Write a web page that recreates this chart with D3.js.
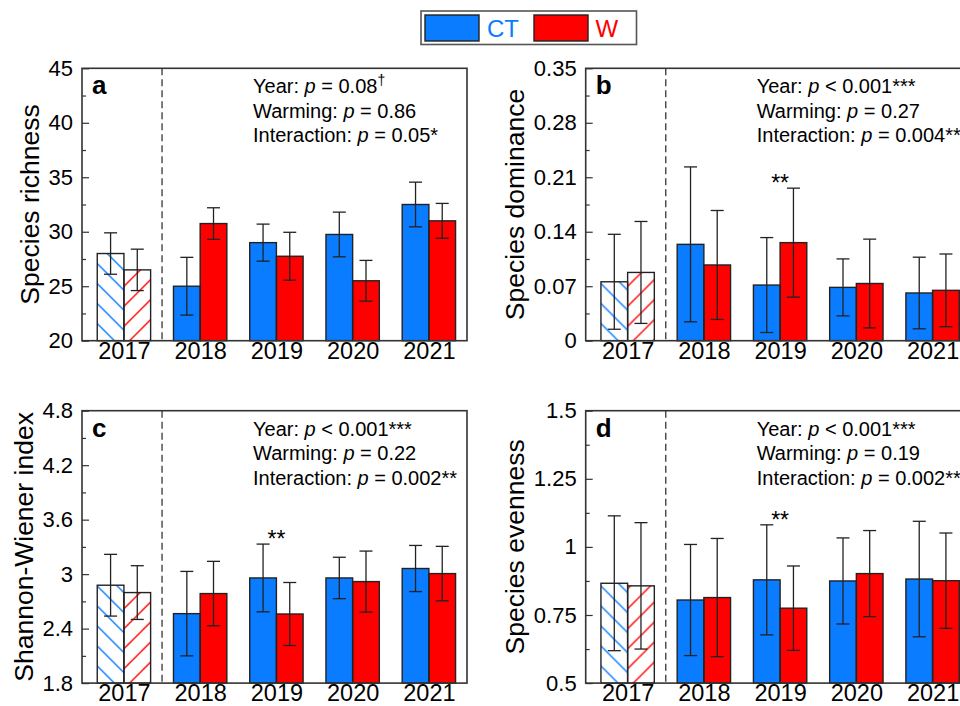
<!DOCTYPE html>
<html>
<head>
<meta charset="utf-8">
<script src="https://cdn.jsdelivr.net/npm/d3@7"></script>
<style>
  body { margin: 0; background: #fff; }
  svg { font-family: Arial, "Liberation Sans", sans-serif; }
</style>
</head>
<body>
<div id="chart"></div>
<script>
const years = ['2017', '2018', '2019', '2020', '2021']

// a - species richness
const richnessCT = [28.0, 25.0, 29.0, 29.75, 32.5]
const richnessCTse = [1.9, 2.65, 1.7, 2.05, 2.05]
const richnessW = [26.5, 30.75, 27.75, 25.5, 31.0]
const richnessWse = [1.9, 1.45, 2.2, 1.87, 1.6]

// b - species dominance
const dominanceCT = [0.0757, 0.1238, 0.0715, 0.0685, 0.0613]
const dominanceCTse = [0.061, 0.0995, 0.061, 0.0366, 0.046]
const dominanceW = [0.0877, 0.0973, 0.126, 0.0735, 0.0647]
const dominanceWse = [0.0655, 0.07, 0.07, 0.057, 0.0467]

// c - Shannon-Wiener index
const shannonCT = [2.878, 2.565, 2.958, 2.958, 3.062]
const shannonCTse = [0.34, 0.465, 0.373, 0.228, 0.254]
const shannonW = [2.797, 2.786, 2.561, 2.918, 3.006]
const shannonWse = [0.296, 0.355, 0.347, 0.336, 0.3]

// d - species evenness
const evennessCT = [0.8665, 0.805, 0.879, 0.875, 0.882]
const evennessCTse = [0.2475, 0.204, 0.202, 0.158, 0.212]
const evennessW = [0.857, 0.814, 0.775, 0.902, 0.876]
const evennessWse = [0.232, 0.217, 0.155, 0.158, 0.175]

const richnessTicks = [20, 25, 30, 35, 40, 45]
const dominanceTicks = [0, 0.07, 0.14, 0.21, 0.28, 0.35]
const shannonTicks = [1.8, 2.4, 3, 3.6, 4.2, 4.8]
const evennessTicks = [0.5, 0.75, 1, 1.25, 1.5]

const BLUE = '#0a7cff'
const RED = '#ff0000'

const W = 960, H = 706
const pw = 385, ph = 272.4

const panels = [
  {
    letter: 'a', title: 'Species richness', left: 82, top: 68.3, titleX: 39,
    ticks: richnessTicks, ct: richnessCT, ctSe: richnessCTse, w: richnessW, wSe: richnessWse,
    stats: [['Year: ', ' = 0.08', '†'], ['Warming: ', ' = 0.86'], ['Interaction: ', ' = 0.05*']],
    sig: null
  },
  {
    letter: 'b', title: 'Species dominance', left: 585.7, top: 68.3, titleX: 524,
    ticks: dominanceTicks, ct: dominanceCT, ctSe: dominanceCTse, w: dominanceW, wSe: dominanceWse,
    stats: [['Year: ', ' < 0.001***'], ['Warming: ', ' = 0.27'], ['Interaction: ', ' = 0.004**']],
    sig: 2
  },
  {
    letter: 'c', title: 'Shannon-Wiener index', left: 82, top: 410.7, titleX: 32.5,
    ticks: shannonTicks, ct: shannonCT, ctSe: shannonCTse, w: shannonW, wSe: shannonWse,
    stats: [['Year: ', ' < 0.001***'], ['Warming: ', ' = 0.22'], ['Interaction: ', ' = 0.002**']],
    sig: 2
  },
  {
    letter: 'd', title: 'Species evenness', left: 585.7, top: 410.7, titleX: 524,
    ticks: evennessTicks, ct: evennessCT, ctSe: evennessCTse, w: evennessW, wSe: evennessWse,
    stats: [['Year: ', ' < 0.001***'], ['Warming: ', ' = 0.19'], ['Interaction: ', ' = 0.002**']],
    sig: 2
  }
]

const svg = d3.select('#chart').append('svg')
  .attr('width', W)
  .attr('height', H)

// hatch patterns for 2017 (pre-treatment) bars
const defs = svg.append('defs')
const hatch = (id, color, d) => {
  defs.append('pattern')
    .attr('id', id)
    .attr('patternUnits', 'userSpaceOnUse')
    .attr('width', 20).attr('height', 20)
    .append('path')
    .attr('d', d)
    .attr('stroke', color)
    .attr('stroke-width', 1.4)
    .attr('fill', 'none')
}
hatch('hatchCT', BLUE, 'M-5,-5L25,25M-5,15L5,25M15,-5L25,5')
hatch('hatchW', RED, 'M-5,25L25,-5M-5,5L5,-5M15,25L25,15')

const xScale = d3.scaleLinear().domain([0.45, 5.5]).range([0, pw])
const bw = 0.35

function drawPanel(p) {
  const g = svg.append('g').attr('transform', `translate(${p.left},${p.top})`)
  const t = p.ticks
  const y = d3.scaleLinear().domain([t[0], t[t.length - 1]]).range([ph, 0])
  const step = t[1] - t[0]
  const minor = d3.range(t.length - 1).map(i => t[0] + step * (i + 0.5))

  // minor ticks
  g.append('g')
    .call(d3.axisLeft(y).tickValues(minor).tickSize(-4).tickFormat(''))
    .call(s => s.select('.domain').remove())
    .selectAll('line').attr('stroke', '#333').attr('stroke-width', 1.2)

  g.append('g')
    .call(d3.axisLeft(y).tickValues(t).tickSize(-7).tickPadding(9).tickFormat(d => d3.format('')(+d.toFixed(2))))
    .call(s => s.select('.domain').remove())
    .call(s => s.selectAll('line').attr('stroke', '#333').attr('stroke-width', 1.2))
    .selectAll('text')
    .attr('font-size', 22)
    .attr('font-family', 'Arial, "Liberation Sans", sans-serif')
    .attr('fill', '#000')

  g.append('g')
    .attr('transform', `translate(0,${ph})`)
    .call(d3.axisBottom(xScale).tickValues([1, 2, 3, 4, 5]).tickSize(0).tickPadding(1.5).tickFormat(d => years[d - 1]))
    .call(s => s.select('.domain').remove())
    .selectAll('text')
    .attr('font-size', 23.5)
    .attr('font-family', 'Arial, "Liberation Sans", sans-serif')
    .attr('fill', '#000')

  const rows = years.map((yr, i) => [
    { i, k: 'CT', v: p.ct[i], se: p.ctSe[i], x0: i + 1 - bw, color: BLUE, hatch: 'url(#hatchCT)' },
    { i, k: 'W', v: p.w[i], se: p.wSe[i], x0: i + 1, color: RED, hatch: 'url(#hatchW)' }
  ]).flat()

  const bars = g.append('g')
  bars.selectAll('rect.bg')
    .data(rows)
    .enter().append('rect')
    .attr('x', d => xScale(d.x0))
    .attr('y', d => y(d.v))
    .attr('width', xScale(bw) - xScale(0))
    .attr('height', d => ph - y(d.v))
    .attr('fill', d => d.i === 0 ? '#fff' : d.color)
  bars.selectAll('rect.hatch')
    .data(rows.filter(d => d.i === 0))
    .enter().append('rect')
    .attr('x', d => xScale(d.x0))
    .attr('y', d => y(d.v))
    .attr('width', xScale(bw) - xScale(0))
    .attr('height', d => ph - y(d.v))
    .attr('fill', d => d.hatch)
  bars.selectAll('rect.edge')
    .data(rows)
    .enter().append('rect')
    .attr('x', d => xScale(d.x0))
    .attr('y', d => y(d.v))
    .attr('width', xScale(bw) - xScale(0))
    .attr('height', d => ph - y(d.v))
    .attr('fill', 'none')
    .attr('stroke', '#222')
    .attr('stroke-width', 1.4)

  // error bars
  const err = g.append('g').attr('stroke', '#222').attr('stroke-width', 1.3)
  rows.forEach(d => {
    const cx = xScale(d.x0 + bw / 2)
    const top = y(d.v + d.se), bot = y(d.v - d.se)
    err.append('line').attr('x1', cx).attr('x2', cx).attr('y1', top).attr('y2', bot)
    err.append('line').attr('x1', cx - 6.5).attr('x2', cx + 6.5).attr('y1', top).attr('y2', top)
    err.append('line').attr('x1', cx - 6.5).attr('x2', cx + 6.5).attr('y1', bot).attr('y2', bot)
  })

  // dashed separator between pre-treatment and warming years
  g.append('line')
    .attr('x1', xScale(1.5)).attr('x2', xScale(1.5))
    .attr('y1', 0).attr('y2', ph)
    .attr('stroke', '#444')
    .attr('stroke-width', 1.4)
    .attr('stroke-dasharray', '7,4')

  // frame
  g.append('rect')
    .attr('width', pw).attr('height', ph)
    .attr('fill', 'none')
    .attr('stroke', '#333')
    .attr('stroke-width', 1.6)

  g.append('text')
    .attr('x', 10).attr('y', 26)
    .attr('font-size', 26).attr('font-weight', 'bold')
    .text(p.letter)

  p.stats.forEach((s, k) => {
    const tx = g.append('text')
      .attr('x', 171).attr('y', 25 + k * 24.6)
      .attr('font-size', 20)
    tx.append('tspan').text(s[0])
    tx.append('tspan').attr('font-style', 'italic').text('p')
    tx.append('tspan').text(s[1])
    if (s[2]) tx.append('tspan').attr('font-size', 14).attr('dy', -8).text(s[2])
  })

  if (p.sig !== null) {
    const i = p.sig
    const hi = Math.max(p.ct[i] + p.ctSe[i], p.w[i] + p.wSe[i])
    g.append('text')
      .attr('x', xScale(i + 1)).attr('y', y(hi) + 3)
      .attr('text-anchor', 'middle')
      .attr('font-size', 23)
      .text('**')
  }

  svg.append('text')
    .attr('transform', `translate(${p.titleX},${p.top + ph / 2}) rotate(-90)`)
    .attr('text-anchor', 'middle')
    .attr('font-size', 26.5)
    .text(p.title)
}

panels.forEach(drawPanel)

// legend
const lg = svg.append('g')
lg.append('rect')
  .attr('x', 421).attr('y', 11).attr('width', 215.5).attr('height', 33.5)
  .attr('fill', '#fff').attr('stroke', '#555').attr('stroke-width', 1.6)
lg.append('rect').attr('x', 425).attr('y', 15).attr('width', 54).attr('height', 26)
  .attr('fill', BLUE).attr('stroke', '#222').attr('stroke-width', 1.4)
lg.append('text').attr('x', 487).attr('y', 37).attr('font-size', 24).attr('fill', BLUE).text('CT')
lg.append('rect').attr('x', 534).attr('y', 15).attr('width', 54).attr('height', 26)
  .attr('fill', RED).attr('stroke', '#222').attr('stroke-width', 1.4)
lg.append('text').attr('x', 595.5).attr('y', 37).attr('font-size', 24).attr('fill', RED).text('W')
</script>
</body>
</html>
